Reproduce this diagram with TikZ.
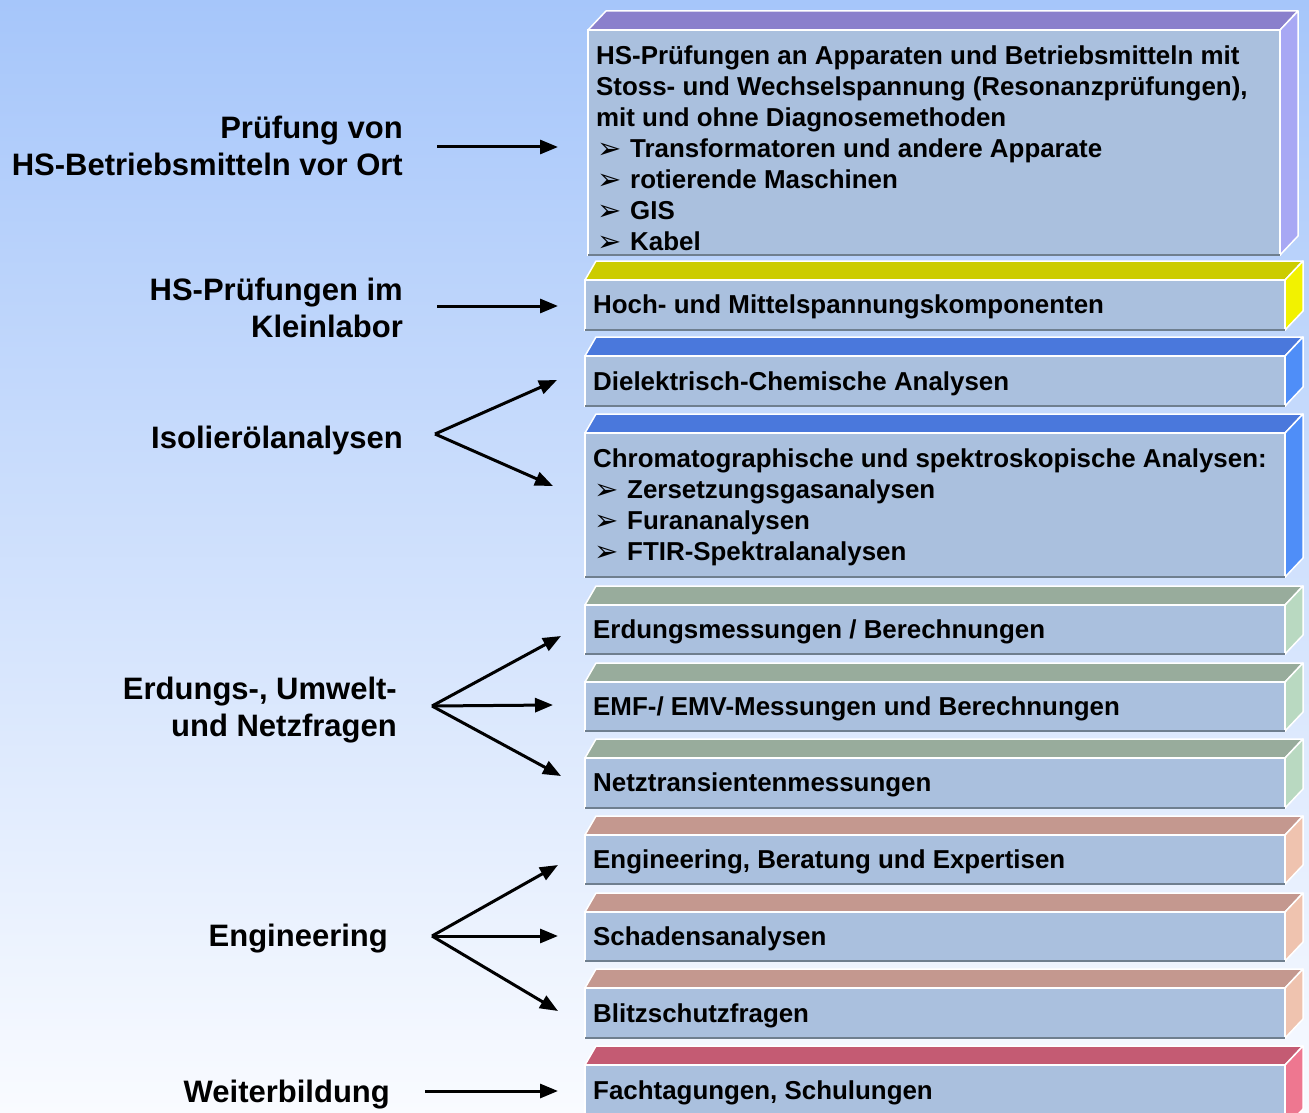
\documentclass[tikz,border=0pt]{standalone}
\usepackage{fontspec}
\setmainfont{Liberation Sans}
\newfontfamily\dejavu{DejaVu Sans}
\usetikzlibrary{arrows.meta,calc}
\definecolor{bgtop}{HTML}{A6C6FA}
\definecolor{bgmid}{HTML}{DCE8FC}
\definecolor{bgbot}{HTML}{F9FBFF}
\definecolor{facec}{HTML}{AAC0DE}
\definecolor{shadowc}{HTML}{6F7F8F}
\definecolor{purpletop}{HTML}{8A80CC}
\definecolor{purpleside}{HTML}{A8A8F4}
\definecolor{yellowtop}{HTML}{CCCC00}
\definecolor{yellowside}{HTML}{F2F200}
\definecolor{bluetop}{HTML}{4A78DC}
\definecolor{blueside}{HTML}{4F8EF8}
\definecolor{greentop}{HTML}{98AC9C}
\definecolor{greenside}{HTML}{B9D9C1}
\definecolor{pinktop}{HTML}{C4988F}
\definecolor{pinkside}{HTML}{EFC3AF}
\definecolor{redtop}{HTML}{C45B73}
\definecolor{redside}{HTML}{EE7790}
\newcommand\bul{\makebox[34pt][l]{\hspace{1pt}\raisebox{-1pt}{\dejavu\fontsize{29}{29}\selectfont ➢}}}
\tikzset{
  face/.style={fill=facec,draw=white,line width=2pt,outer sep=0pt,inner sep=0pt},
  boxtext/.style={inner xsep=8pt,inner ysep=0pt,align=left,anchor=west,
    font=\fontsize{25.9}{31}\selectfont\bfseries},
  bevel/.style={draw=white,line width=1.5pt,line join=round},
  lbl/.style={font=\fontsize{31}{36.5}\selectfont\bfseries,align=right,inner sep=0pt,anchor=east},
  arr/.style={line width=3pt,-{Triangle[length=18pt,width=14pt]}}
}
% #1 name, #2 xl, #3 yt, #4 xr, #5 yb, #6 dxl, #7 colour, #8 text dy, #9 text
\newcommand\hsbox[9]{%
  \pgfmathsetmacro\bw{#4-#2}\pgfmathsetmacro\bh{#5-#3}%
  \fill[#7top,bevel] (#2,#3) -- ++(#6,-19) -- (#4+18,#3-19) -- (#4,#3) -- cycle;
  \fill[#7side,bevel] (#4,#3) -- (#4+18,#3-19) -- (#4+18,#5-19) -- (#4,#5) -- cycle;
  \node[face,minimum width=\bw pt,minimum height=\bh pt,anchor=north west] (#1) at (#2,#3) {};
  \draw[shadowc,line width=2pt] (#1.south west) -- (#1.south east);
  \node[boxtext] (#1-t) at ($(#1.west)+(0,#8)$) {#9};
}
\begin{document}
\begin{tikzpicture}[x=1pt,y=-1pt]
\useasboundingbox (0,0) rectangle (1309,1113);
\clip (0,0) rectangle (1309,1113);
\shade[top color=bgtop,middle color=bgmid,bottom color=bgbot] (0,0) rectangle (1309,1113);

\hsbox{b1}{588}{30}{1280}{255}{18}{purple}{6}{HS-Prüfungen an Apparaten und Betriebsmitteln mit\\Stoss- und Wechselspannung (Resonanzprüfungen),\\mit und ohne Diagnosemethoden\\\bul Transformatoren und andere Apparate\\\bul rotierende Maschinen\\\bul GIS\\\bul Kabel}
\hsbox{b2}{585}{280}{1285}{330}{11}{yellow}{2}{Hoch- und Mittelspannungskomponenten}
\hsbox{b3}{585}{356}{1285}{406}{11}{blue}{2.5}{Dielektrisch-Chemische Analysen}
\hsbox{b4}{585}{433}{1285}{577}{11}{blue}{2}{Chromatographische und spektroskopische Analysen:\\\bul Zersetzungsgasanalysen\\\bul Furananalysen\\\bul FTIR-Spektralanalysen}
\hsbox{b5}{585}{605}{1285}{654}{11}{green}{2}{Erdungsmessungen / Berechnungen}
\hsbox{b6}{585}{682}{1285}{731}{11}{green}{2}{EMF-/ EMV-Messungen und Berechnungen}
\hsbox{b7}{585}{758}{1285}{808}{11}{green}{2}{Netztransientenmessungen}
\hsbox{b8}{585}{835}{1285}{884}{11}{pink}{2}{Engineering, Beratung und Expertisen}
\hsbox{b9}{585}{912}{1285}{961}{11}{pink}{2}{Schadensanalysen}
\hsbox{b10}{585}{988}{1285}{1038}{11}{pink}{2.5}{Blitzschutzfragen}
\hsbox{b11}{585}{1065}{1285}{1128}{11}{red}{-3.5}{Fachtagungen, Schulungen}

% left labels
\node[lbl] (l1) at (403,146) {Prüfung von\\HS-Betriebsmitteln vor Ort};
\node[lbl] (l2) at (403,308) {HS-Prüfungen im\\Kleinlabor};
\node[lbl] (l3) at (403,440) {Isolierölanalysen};
\node[lbl] (l4) at (397,710) {Erdungs-, Umwelt-\\und Netzfragen};
\node[lbl] (l5) at (388,939) {Engineering};
\node[lbl] (l6) at (390,1095) {Weiterbildung};

% arrow coordinates
\coordinate (s1) at (437,147); \coordinate (e1) at (558,147);
\coordinate (s2) at (437,306); \coordinate (e2) at (558,306);
\coordinate (s3) at (435,434); \coordinate (e3a) at (557,380); \coordinate (e3b) at (553,486);
\coordinate (s4) at (432,706); \coordinate (e4a) at (561,636); \coordinate (e4b) at (553,705); \coordinate (e4c) at (561,776);
\coordinate (s5) at (432,936); \coordinate (e5a) at (558,865); \coordinate (e5b) at (558,936); \coordinate (e5c) at (558,1011);
\coordinate (s6) at (425,1091); \coordinate (e6) at (558,1091);

\draw[arr] (s1) -- (e1);
\draw[arr] (s2) -- (e2);
\draw[arr] (s3) -- (e3a);
\draw[arr] (s3) -- (e3b);
\draw[arr] (s4) -- (e4a);
\draw[arr] (s4) -- (e4b);
\draw[arr] (s4) -- (e4c);
\draw[arr] (s5) -- (e5a);
\draw[arr] (s5) -- (e5b);
\draw[arr] (s5) -- (e5c);
\draw[arr] (s6) -- (e6);
\end{tikzpicture}
\end{document}
